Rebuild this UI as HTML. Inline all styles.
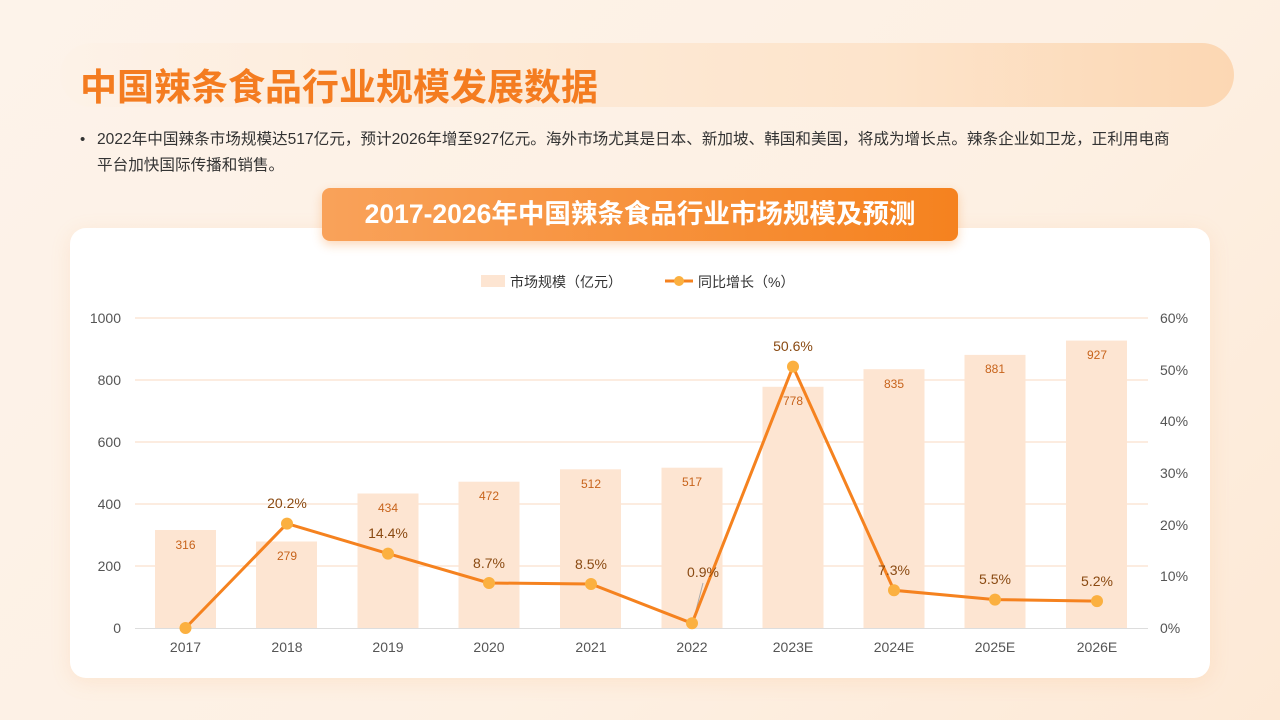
<!DOCTYPE html><html><head><meta charset="utf-8"><style>
body{margin:0;width:1280px;height:720px;overflow:hidden;background:linear-gradient(135deg,#fdf3ea,#fdf0e3 60%,#fde9d6);font-family:"Liberation Sans","Noto Sans CJK SC",sans-serif;position:relative}
.hdr{position:absolute;left:60px;top:43px;width:1174px;height:64px;border-radius:32px;background:linear-gradient(90deg,rgba(253,240,228,0.3),#fde4cb 70%,#fcd7b3)}
.h1{position:absolute;left:80px;top:57px;font-size:37px;font-weight:bold;color:#f47c20;letter-spacing:0px}
.p{position:absolute;left:97px;top:127px;width:1076px;font-size:15.6px;line-height:26px;color:#333}
.dot{position:absolute;left:80px;top:127px;font-size:15px;line-height:26px;color:#333}
.card{position:absolute;left:70px;top:228px;width:1140px;height:450px;background:#fff;border-radius:16px;box-shadow:0 4px 20px rgba(245,160,90,0.15)}
.ttl{position:absolute;left:322px;top:188px;width:636px;height:53px;border-radius:8px;background:linear-gradient(90deg,#f9a25a,#f5821f);color:#fff;font-weight:bold;font-size:26.5px;text-align:center;line-height:53px;box-shadow:0 4px 10px rgba(245,130,31,0.3)}
</style></head><body>
<div class="hdr"></div>
<div class="h1">中国辣条食品行业规模发展数据</div>
<div class="dot">•</div>
<div class="p">2022年中国辣条市场规模达517亿元，预计2026年增至927亿元。海外市场尤其是日本、新加坡、韩国和美国，将成为增长点。辣条企业如卫龙，正利用电商<br>平台加快国际传播和销售。</div>
<div class="card"></div>
<div class="ttl">2017-2026年中国辣条食品行业市场规模及预测</div>
<svg style="position:absolute;left:0;top:0" width="1280" height="720" font-family="Liberation Sans, Noto Sans CJK SC, sans-serif">
<g stroke="#fce6d5" stroke-width="1.5">
<line x1="135" x2="1148" y1="318" y2="318"/><line x1="135" x2="1148" y1="380" y2="380"/><line x1="135" x2="1148" y1="442" y2="442"/><line x1="135" x2="1148" y1="504" y2="504"/><line x1="135" x2="1148" y1="566" y2="566"/></g>
<line x1="135" x2="1148" y1="628.5" y2="628.5" stroke="#ddd"/>
<g font-size="14" fill="#555" text-anchor="end"><text x="121" y="323">1000</text><text x="121" y="385">800</text><text x="121" y="447">600</text><text x="121" y="509">400</text><text x="121" y="571">200</text><text x="121" y="633">0</text></g>
<g font-size="14" fill="#555" text-anchor="start"><text x="1160" y="323">60%</text><text x="1160" y="375">50%</text><text x="1160" y="426">40%</text><text x="1160" y="478">30%</text><text x="1160" y="530">20%</text><text x="1160" y="581">10%</text><text x="1160" y="633">0%</text></g>
<g fill="#fde5d2">
<rect x="155" y="530" width="61" height="98"/><rect x="256" y="541.5" width="61" height="86.5"/><rect x="357.5" y="493.5" width="61" height="134.5"/><rect x="458.5" y="481.7" width="61" height="146.3"/><rect x="560" y="469.3" width="61" height="158.7"/><rect x="661.5" y="467.7" width="61" height="160.3"/><rect x="762.5" y="386.8" width="61" height="241.2"/><rect x="863.5" y="369.2" width="61" height="258.8"/><rect x="964.5" y="354.9" width="61" height="273.1"/><rect x="1066" y="340.6" width="61" height="287.4"/></g>
<g font-size="12" fill="#c7631b" text-anchor="middle"><text x="185.5" y="549">316</text><text x="287" y="560">279</text><text x="388" y="512">434</text><text x="489" y="500">472</text><text x="591" y="488">512</text><text x="692" y="486">517</text><text x="793" y="405">778</text><text x="894" y="388">835</text><text x="995" y="373">881</text><text x="1097" y="359">927</text></g>
<g font-size="14" fill="#555" text-anchor="middle"><text x="185.5" y="652">2017</text><text x="287" y="652">2018</text><text x="388" y="652">2019</text><text x="489" y="652">2020</text><text x="591" y="652">2021</text><text x="692" y="652">2022</text><text x="793" y="652">2023E</text><text x="894" y="652">2024E</text><text x="995" y="652">2025E</text><text x="1097" y="652">2026E</text></g>
<line x1="693" y1="622" x2="703" y2="583" stroke="#aaa" stroke-width="1"/>
<polyline fill="none" stroke="#f5821f" stroke-width="3" points="185.5,628 287,523.6 388,553.6 489,583 591,584 692,623.3 793,366.6 894,590.3 995,599.6 1097,601.1"/>
<g fill="#fbb040"><circle cx="185.5" cy="628" r="6"/><circle cx="287" cy="523.6" r="6"/><circle cx="388" cy="553.6" r="6"/><circle cx="489" cy="583" r="6"/><circle cx="591" cy="584" r="6"/><circle cx="692" cy="623.3" r="6"/><circle cx="793" cy="366.6" r="6"/><circle cx="894" cy="590.3" r="6"/><circle cx="995" cy="599.6" r="6"/><circle cx="1097" cy="601.1" r="6"/></g>
<g font-size="14" fill="#8a4a12" text-anchor="middle"><text x="287" y="508">20.2%</text><text x="388" y="538">14.4%</text><text x="489" y="568">8.7%</text><text x="591" y="569">8.5%</text><text x="703" y="577">0.9%</text><text x="793" y="351">50.6%</text><text x="894" y="575">7.3%</text><text x="995" y="584">5.5%</text><text x="1097" y="586">5.2%</text></g>
<rect x="481" y="275" width="24" height="12" fill="#fde5d2"/>
<text x="510" y="287" font-size="14" fill="#333">市场规模（亿元）</text>
<line x1="665" x2="693" y1="281" y2="281" stroke="#f5821f" stroke-width="3"/><circle cx="679" cy="281" r="5" fill="#fbb040"/>
<text x="698" y="287" font-size="14" fill="#333">同比增长（%）</text>
</svg>
</body></html>
